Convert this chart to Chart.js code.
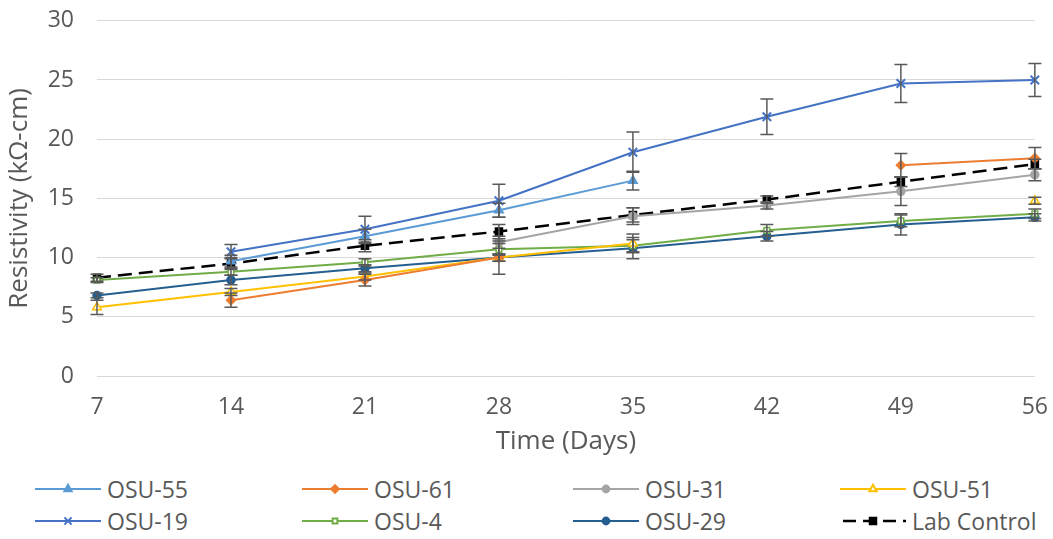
<!DOCTYPE html>
<html>
<head>
<meta charset="utf-8">
<script src="https://cdn.jsdelivr.net/npm/chart.js@4.4.1/dist/chart.umd.min.js"></script>
<style>
  body { margin: 0; background: #fff; font-family: "Open Sans", sans-serif; overflow: hidden; }
  #wrap { position: absolute; left: 0; top: -16px; width: 1066px; height: 486px; }
  #legend { position: absolute; left: 0; top: 474px; width: 1053px; height: 64px; }
  .item { position: absolute; display: flex; align-items: center; color: #595959; font-size: 23px; height: 30px; }
  .item canvas { margin-right: 6px; }
</style>
</head>
<body>
<div id="wrap"><canvas id="myChart"></canvas></div>
<div id="legend"></div>
<script>
const days = ['7', '14', '21', '28', '35', '42', '49', '56']

const osu55 = [null, 9.7, 11.8, 14.0, 16.5, null, null, null]
const osu61 = [null, 6.4, 8.1, 10.0, null, null, 17.8, 18.4]
const osu31 = [null, null, null, 11.3, 13.5, 14.4, 15.6, 17.0]
const osu51 = [5.8, 7.1, 8.4, 10.0, 11.2, null, null, 14.8]
const osu19 = [null, 10.5, 12.4, 14.8, 18.9, 21.9, 24.7, 25.0]
const osu4 = [8.1, 8.8, 9.6, 10.7, 11.0, 12.3, 13.1, 13.7]
const osu29 = [6.8, 8.1, 9.1, 10.0, 10.8, 11.8, 12.8, 13.4]
const labControl = [8.3, 9.5, 11.0, 12.2, 13.6, 14.9, 16.4, 17.9]

const err55 = [0, 0.5, 0.6, 0.6, 0.8, 0, 0, 0]
const err61 = [0, 0.6, 0.5, 0.3, 0, 0, 1.0, 0.9]
const err31 = [0, 0, 0, 0.5, 0.7, 0.3, 1.2, 0.5]
const err51 = [0.6, 0.3, 0.3, 0.3, 0.8, 0, 0, 0.3]
const err19 = [0, 0.6, 1.1, 1.4, 1.7, 1.5, 1.6, 1.4]
const err4 = [0.2, 0.3, 0.3, 0.5, 0.5, 0.5, 0.5, 0.4]
const err29 = [0.2, 0.4, 0.3, 1.4, 0.9, 0.4, 0.9, 0.3]
const errLab = [0.3, 0.5, 0.5, 0.6, 0.6, 0.3, 0.4, 0.4]

const mk = (label, data, errors, color, style, radius, fill, dash) => ({
    label: label,
    data: data,
    errors: errors,
    borderColor: color,
    backgroundColor: color,
    borderWidth: 2,
    borderDash: dash || [],
    pointStyle: style,
    pointRadius: radius,
    pointBackgroundColor: fill || color,
    pointBorderColor: color,
    pointBorderWidth: style === 'crossRot' ? 2 : 1.5,
    tension: 0,
    spanGaps: false,
})

const datasets = [
    mk('OSU-55', osu55, err55, '#5B9BD5', 'triangle', 5),
    mk('OSU-61', osu61, err61, '#ED7D31', 'rectRot', 4.5),
    mk('OSU-31', osu31, err31, '#A5A5A5', 'circle', 4),
    mk('OSU-51', osu51, err51, '#FFC000', 'triangle', 5, '#ffffff'),
    mk('OSU-19', osu19, err19, '#4472C4', 'crossRot', 6),
    mk('OSU-4', osu4, err4, '#70AD47', 'rect', 4, '#ffffff'),
    mk('OSU-29', osu29, err29, '#255E91', 'circle', 4),
    mk('Lab Control', labControl, errLab, '#000000', 'rect', 5, null, [14, 7]),
]
datasets[7].borderWidth = 2.5

// draw error bars with the chart scales
const errorBars = {
    id: 'errorBars',
    afterDatasetsDraw(chart) {
        const ctx = chart.ctx
        const x = chart.scales.x
        const y = chart.scales.y
        ctx.save()
        ctx.strokeStyle = '#595959'
        ctx.lineWidth = 1.5
        chart.data.datasets.forEach((ds) => {
            ds.errors.forEach((e, j) => {
                const v = ds.data[j]
                if (v == null || !e) return
                const px = x.getPixelForValue(j)
                const top = y.getPixelForValue(v + e)
                const bot = y.getPixelForValue(v - e)
                ctx.beginPath()
                ctx.moveTo(px, top); ctx.lineTo(px, bot)
                ctx.moveTo(px - 6.5, top); ctx.lineTo(px + 6.5, top)
                ctx.moveTo(px - 6.5, bot); ctx.lineTo(px + 6.5, bot)
                ctx.stroke()
            })
        })
        ctx.restore()
    }
}

const ctx = document.getElementById('myChart')
const chart = new Chart(ctx, {
    type: 'line',
    data: { labels: days, datasets: datasets },
    plugins: [errorBars],
    options: {
        responsive: true,
        maintainAspectRatio: false,
        animation: false,
        layout: { padding: { left: 0, right: 0, top: 4, bottom: 0 } },
        plugins: { legend: { display: false }, tooltip: { enabled: false } },
        scales: {
            x: {
                offset: false,
                grid: { display: false, drawTicks: false },
                border: { display: true, color: '#D9D9D9', width: 1 },
                ticks: { color: '#595959', font: { family: 'Open Sans', size: 23 }, padding: 18, maxRotation: 0 },
                title: { display: true, text: 'Time (Days)', color: '#595959', font: { family: 'Open Sans', size: 26 }, padding: { top: 0, bottom: 13 } },
                afterFit: (s) => { s.height = 94 },
            },
            y: {
                min: 0,
                max: 30,
                ticks: { stepSize: 5, color: '#595959', font: { family: 'Open Sans', size: 23 }, padding: 23 },
                grid: { color: '#D9D9D9', drawTicks: false },
                border: { display: false },
                title: { display: true, text: 'Resistivity (kΩ-cm)', color: '#595959', font: { family: 'Open Sans', size: 26 }, padding: { top: 4, bottom: 0 } },
                afterFit: (s) => { s.width = 97 },
            }
        }
    }
})

// legend in 4 columns, 2 rows
const legend = document.getElementById('legend')
const colX = [35, 302, 573, 840]
datasets.forEach((ds, i) => {
    const item = document.createElement('div')
    item.className = 'item'
    item.style.left = colX[i % 4] + 'px'
    item.style.top = (i < 4 ? 0 : 32) + 'px'
    const c = document.createElement('canvas')
    c.width = 66; c.height = 16
    const g = c.getContext('2d')
    g.strokeStyle = ds.borderColor
    g.lineWidth = ds.borderWidth
    g.setLineDash(ds.borderDash.length ? [13, 7] : [])
    g.beginPath(); g.moveTo(ds.borderDash.length ? 3 : 0, 8); g.lineTo(66, 8); g.stroke()
    g.setLineDash([])
    g.fillStyle = ds.pointBackgroundColor
    Chart.helpers.drawPoint(g, {
        pointStyle: ds.pointStyle, radius: ds.pointRadius * 0.85, rotation: 0, borderWidth: ds.pointBorderWidth
    }, 33, 8)
    item.appendChild(c)
    const t = document.createElement('span')
    t.textContent = ds.label
    item.appendChild(t)
    legend.appendChild(item)
})
</script>
</body>
</html>
